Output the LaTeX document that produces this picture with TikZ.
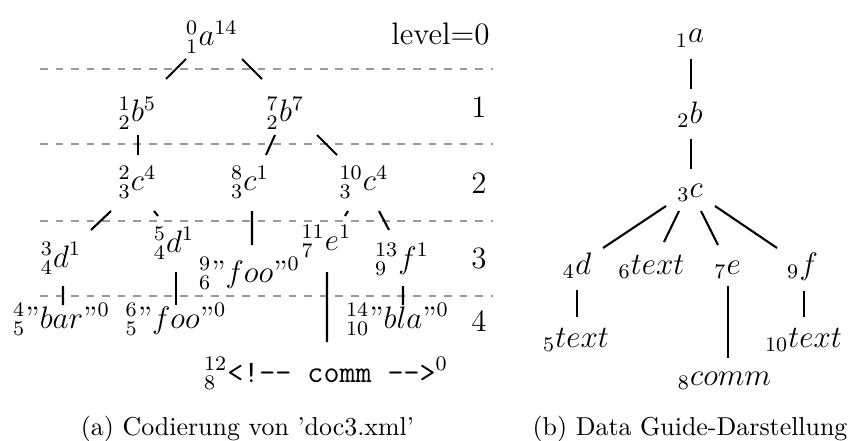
\documentclass[tikz,border=0pt]{standalone}
\usepackage{tikz}
\usepackage{amsmath}

\begin{document}
\begin{tikzpicture}[x=0.3861pt, y=-0.3861pt,
    knoten/.style={anchor=base, font=\large, inner sep=0pt},
    ebene/.style={anchor=base, font=\large, inner sep=0pt},
    kante/.style={line width=0.8pt},
    trenner/.style={dashed, black!40, line width=0.4pt},
    titel/.style={anchor=base, inner sep=0pt}]
\useasboundingbox (0,0) rectangle (856,441);

    % Trennlinien der Ebenen:
    \draw[trenner] (40,69) -- (493,69); % 0/1
    \draw[trenner] (40,144) -- (493,144); % 1/2
    \draw[trenner] (40,221) -- (493,221); % 2/3
    \draw[trenner] (40,296) -- (493,296); % 3/4

    % Baum (a):
    \node[knoten] (a0) at (212,46) {$^0_1a^{14}$};
    \node[knoten] (b1) at (137.5,122) {$^1_2b^5$};
    \node[knoten] (b7) at (285.5,122) {$^7_2b^7$};
    \node[knoten] (c2) at (137.5,191) {$^2_3c^4$};
    \node[knoten] (c8) at (250,191) {$^8_3c^1$};
    \node[knoten] (c10) at (364,191) {$^{10}_3c^4$};
    \node[knoten] (d3) at (61,267) {$^3_4d^1$};
    \node[knoten] (d5) at (174,252) {$^5_4d^1$};
    \node[knoten] (foo9) at (249.5,282) {$^9_6$”$foo$”$^0$};
    \node[knoten] (e11) at (326.5,250) {$^{11}_7e^1$};
    \node[knoten] (f13) at (402,268) {$^{13}_9f^1$};
    \node[knoten] (bar4) at (61.5,328) {$^4_5$”$bar$”$^0$};
    \node[knoten] (foo6) at (176,328) {$^6_5$”$foo$”$^0$};
    \node[knoten] (bla14) at (397.5,328) {$^{14}_{10}$”$bla$”$^0$};
    \node[knoten] (comm12) at (326,382) {$^{12}_8$\texttt{<!-{}- comm -{}->}$^0$};

    % Ebenen:
    \node[ebene, anchor=base east] (l0) at (490,45) {level=0};
    \node[ebene] (l1) at (479,118) {1};
    \node[ebene] (l2) at (479,193) {2};
    \node[ebene] (l3) at (479,268) {3};
    \node[ebene] (l4) at (479,331) {4};

    % Kanten (a):
    \draw[kante] ([shift={(-26,13)}]a0.base) -- ([shift={(28.5,-43)}]b1.base);
    \draw[kante] ([shift={(30,13)}]a0.base) -- ([shift={(-23.5,-43)}]b7.base);
    \draw[kante] ([shift={(0.5,13)}]b1.base) -- ([shift={(0.5,-36)}]c2.base);
    \draw[kante] ([shift={(-10.5,13)}]b7.base) -- ([shift={(16,-36)}]c8.base);
    \draw[kante] ([shift={(31.5,13)}]b7.base) -- ([shift={(-27,-36)}]c10.base);
    \draw[kante] ([shift={(-26.5,20)}]c2.base) -- ([shift={(30,-37)}]d3.base);
    \draw[kante] ([shift={(16.5,20)}]c2.base) -- ([shift={(-16,-36)}]d5.base);
    \draw[kante] ([shift={(2,20)}]c8.base) -- ([shift={(2.5,-37)}]foo9.base);
    \draw[kante] ([shift={(-16,20)}]c10.base) -- ([shift={(18.5,-34)}]e11.base);
    \draw[kante] ([shift={(15,20)}]c10.base) -- ([shift={(-13,-38)}]f13.base);
    \draw[kante] ([shift={(2,19)}]d3.base) -- ([shift={(1.5,-23)}]bar4.base);
    \draw[kante] ([shift={(2,20)}]d5.base) -- ([shift={(0,-23)}]foo6.base);
    \draw[kante] ([shift={(0.5,22)}]e11.base) -- ([shift={(1,-40)}]comm12.base);
    \draw[kante] ([shift={(1,18)}]f13.base) -- ([shift={(5.5,-23)}]bla14.base);

    % Baum (b):
    \node[knoten] (ga) at (690,43) {$_1a$};
    \node[knoten] (gb) at (690,123) {$_2b$};
    \node[knoten] (gc) at (690,197) {$_3c$};
    \node[knoten] (gd) at (577,274) {$_4d$};
    \node[knoten] (gt6) at (651.5,274) {$_6text$};
    \node[knoten] (ge) at (727.5,274) {$_7e$};
    \node[knoten] (gf) at (802.5,274) {$_9f$};
    \node[knoten] (gt5) at (576,347) {$_5text$};
    \node[knoten] (gcomm) at (724.5,385) {$_8comm$};
    \node[knoten] (gt10) at (803.5,347) {$_{10}text$};

    % Kanten (b):
    \draw[kante] ([shift={(1,16)}]ga.base) -- ([shift={(1,-34)}]gb.base);
    \draw[kante] ([shift={(1,16)}]gb.base) -- ([shift={(1,-28)}]gc.base);
    \draw[kante] ([shift={(-24,9)}]gc.base) -- ([shift={(26,-26)}]gd.base);
    \draw[kante] ([shift={(-11,14)}]gc.base) -- ([shift={(12.5,-32)}]gt6.base);
    \draw[kante] ([shift={(11,14)}]gc.base) -- ([shift={(-9.5,-29)}]ge.base);
    \draw[kante] ([shift={(25,9)}]gc.base) -- ([shift={(-25.5,-26)}]gf.base);
    \draw[kante] ([shift={(0,16)}]gd.base) -- ([shift={(1,-30)}]gt5.base);
    \draw[kante] ([shift={(0.5,12)}]ge.base) -- ([shift={(3.5,-27)}]gcomm.base);
    \draw[kante] ([shift={(1.5,17)}]gf.base) -- ([shift={(0.5,-30)}]gt10.base);

    % Unterschriften:
    \node[titel] (capa) at (247.5,435) {(a) Codierung von ’doc3.xml’};
    \node[titel] (capb) at (690,435) {(b) Data Guide-Darstellung};
\end{tikzpicture}
\end{document}
